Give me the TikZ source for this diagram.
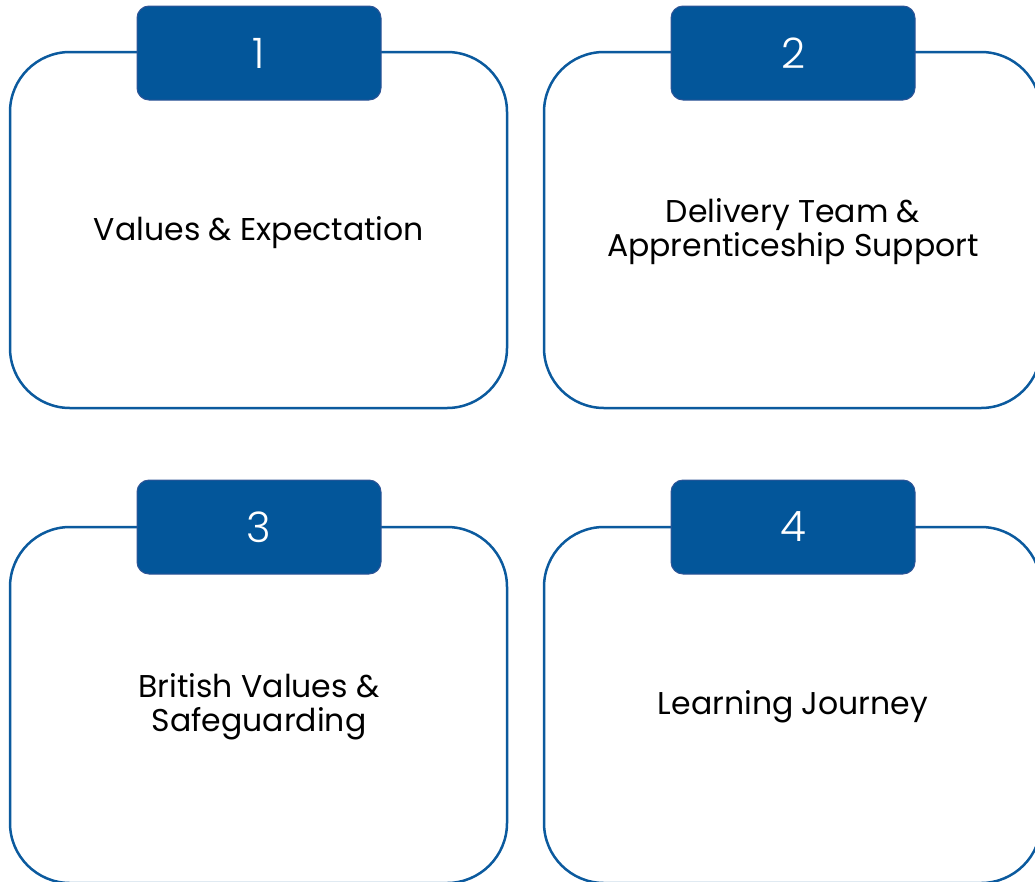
\documentclass[tikz,border=0pt]{standalone}
\usepackage{fontspec}
\setmainfont{Poppins}
\newfontfamily\numfont{Poppins Light}
\definecolor{framec}{HTML}{0B5A9E}
\definecolor{tabc}{HTML}{03569A}
\definecolor{tabedge}{HTML}{2F5597}
\tikzset{
  frame/.style={draw=framec, line width=2.5pt, rounded corners=60pt, fill=white,
    minimum width=497pt, minimum height=356pt, inner sep=0pt},
  tab/.style={draw=tabedge, line width=1pt, fill=tabc, rounded corners=12pt,
    minimum width=244pt, minimum height=94pt, inner sep=0pt,
    text=white, font=\numfont\fontsize{42}{42}\selectfont},
  label/.style={align=center, text=black, font=\fontsize{31.5}{34}\selectfont}
}
\begin{document}
\begin{tikzpicture}[x=1pt,y=-1pt]
\useasboundingbox (0,0) rectangle (1035,881);
\clip (0,0) rectangle (1035,881);
\node[frame] (f1) at (258.5,230) {};
\node[frame] (f2) at (792.5,230) {};
\node[frame] (f3) at (258.5,705) {};
\node[frame] (f4) at (792.5,705) {};
\node[tab] (t1) at (259,53) {1};
\node[tab] (t2) at (793,53) {2};
\node[tab] (t3) at (259,527) {3};
\node[tab] (t4) at (793,527) {4};
\node[label] (l1) at (259,233) {Values \& Expectation};
\node[label] (l2) at (793,232) {Delivery Team \&\\Apprenticeship Support};
\node[label] (l3) at (259,707) {British Values \&\\Safeguarding};
\node[label] (l4) at (793,707) {Learning Journey};
\end{tikzpicture}
\end{document}
